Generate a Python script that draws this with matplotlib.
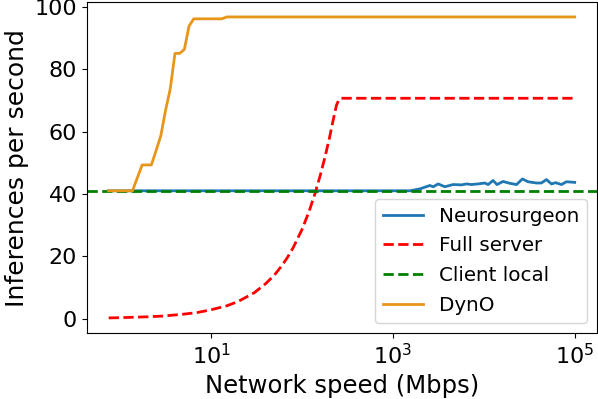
import matplotlib
matplotlib.use("Agg")
import matplotlib.pyplot as plt

# Full server (Mbps, inferences/s)
full_x = [0.75, 1, 2, 3, 5, 7, 10, 15, 20, 30, 40, 50, 60, 70, 80, 100, 120,
          140, 160, 180, 200, 220, 240, 255, 270, 100000]
full_y = [0.2, 0.27, 0.55, 0.8, 1.4, 1.9, 2.8, 4.1, 5.5, 8.3, 11.2, 14.0, 16.9,
          19.8, 22.7, 28.5, 34.4, 40.3, 46.2, 52.0, 57.7, 63.5, 68.5, 70.2, 70.7, 70.7]

# Neurosurgeon
neuro_x = [0.75, 1540, 1980, 2550, 2780, 3150, 3730, 4600, 5690, 6460, 7330, 8650,
           10250, 11150, 12650, 14000, 16300, 19300, 22900, 26600, 30700, 37900,
           43000, 48900, 55500, 61800, 71400, 81100, 100000]
neuro_y = [41.0, 41.0, 41.6, 42.7, 42.3, 43.2, 42.3, 43.0, 42.9, 43.2, 43.0, 43.2,
           43.5, 43.0, 44.3, 43.0, 44.0, 43.4, 43.0, 44.8, 43.9, 43.5, 43.5, 44.6,
           43.2, 43.6, 43.0, 43.9, 43.7]

# DynO
dyno_x = [0.75, 1.37, 1.75, 2.21, 2.49, 2.81, 3.16, 3.56, 4.02, 4.53, 5.10, 5.74,
          6.47, 13.2, 14.9, 100000]
dyno_y = [41.0, 41.0, 49.3, 49.3, 53.9, 58.7, 66.7, 73.6, 85.1, 85.1, 86.4, 93.9,
          96.2, 96.2, 96.8, 96.8]

# Client local
client_local = 41.0

xticks = [1e1, 1e3, 1e5]
yticks = [0, 20, 40, 60, 80, 100]

fig = plt.figure(figsize=(5.98, 3.99), dpi=100)
ax = fig.add_axes([0.145, 0.165, 0.853, 0.83])

ax.plot(neuro_x, neuro_y, color="#1f77b4", lw=2, label="Neurosurgeon")
ax.plot(full_x, full_y, color="red", lw=2, ls="--", label="Full server")
ax.axhline(client_local, color="green", lw=2, ls="--", label="Client local")
ax.plot(dyno_x, dyno_y, color="#e8961a", lw=2, label="DynO")

ax.set_xscale("log")
ax.set_xlim(0.43, 1.75e5)
ax.set_ylim(-4.7, 101.6)
ax.set_xticks(xticks)
ax.minorticks_off()
ax.set_yticks(yticks)
ax.tick_params(labelsize=16)
ax.set_xlabel("Network speed (Mbps)", fontsize=17.5)
ax.set_ylabel("Inferences per second", fontsize=18)
ax.legend(loc="lower right", fontsize=14.3, labelspacing=0.55)

fig.savefig("out.png", dpi=100)
